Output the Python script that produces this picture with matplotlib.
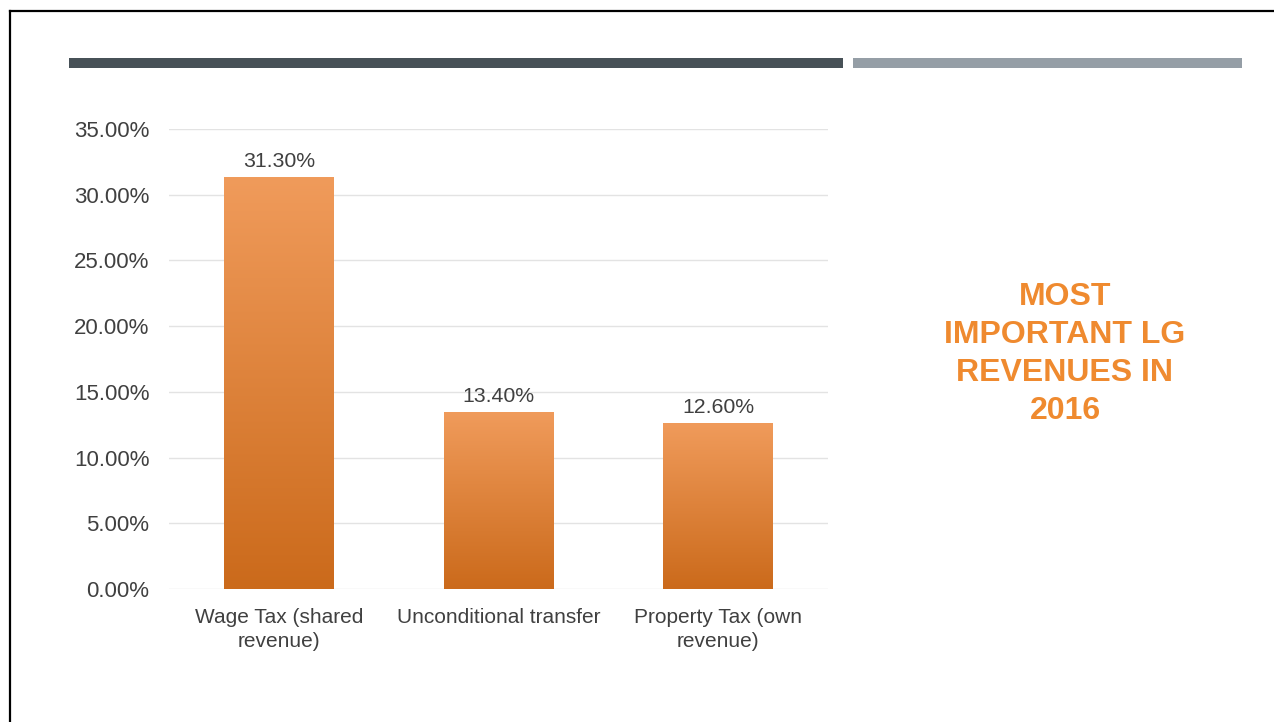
import numpy as np
import matplotlib.pyplot as plt
from matplotlib.patches import Rectangle
from matplotlib.colors import LinearSegmentedColormap

plt.rcParams['font.family'] = ['Liberation Sans', 'DejaVu Sans']

# données
categories = ['Wage Tax (shared\nrevenue)', 'Unconditional transfer', 'Property Tax (own\nrevenue)']
values = [31.30, 13.40, 12.60]
yticks = [0, 5, 10, 15, 20, 25, 30, 35]
titre = 'MOST\nIMPORTANT LG\nREVENUES IN\n2016'

W, H = 1274, 722
fig = plt.figure(figsize=(W/100, H/100), dpi=100)

# cadre noir (gauche + haut)
fig.add_artist(plt.Line2D([10/W, 10/W], [0, 1-11/H], color='k', lw=1.6))
fig.add_artist(plt.Line2D([10/W, 1], [1-11/H, 1-11/H], color='k', lw=1.6))

# bandes du haut
fig.add_artist(Rectangle((69/W, 1-68/H), (843-69)/W, 10/H, color='#475157', lw=0))
fig.add_artist(Rectangle((853/W, 1-68/H), (1242-853)/W, 10/H, color='#959ea6', lw=0))

ax = fig.add_axes([169/W, 1-589/H, (828-169)/W, (589-129)/H])
x = np.arange(len(categories))
bw = 0.5
grad = np.linspace(0, 1, 256).reshape(-1, 1)
cmap = LinearSegmentedColormap.from_list('orange', ['#cb6a1b', '#f09b5b'])
for xi, v in zip(x, values):
    ax.imshow(grad, extent=[xi-bw/2, xi+bw/2, 0, v], origin='lower', cmap=cmap,
              aspect='auto', zorder=2)
    ax.text(xi, v + 0.5, '%.2f%%' % v, ha='center', va='bottom', fontsize=15.3, color='#404040')

ax.set_xlim(-0.5, len(categories)-0.5)
ax.set_ylim(0, 35)
ax.set_yticks(yticks)
ax.set_yticklabels(['%.2f%%' % t for t in yticks], fontsize=16, color='#404040')
ax.set_xticks(x)
ax.set_xticklabels(categories, fontsize=15, color='#404040', linespacing=1.3)
ax.tick_params(axis='y', length=0, pad=14)
ax.tick_params(axis='x', length=0, pad=14)
ax.grid(axis='y', color='#e3e3e3', lw=1, zorder=0)
ax.set_axisbelow(True)
for s in ax.spines.values():
    s.set_visible(False)

fig.text(1065/W, 1-354/H, titre, ha='center', va='center', fontsize=23, fontweight='bold',
         color='#ef8a2f', linespacing=1.36)

plt.savefig('out.png', dpi=100)
